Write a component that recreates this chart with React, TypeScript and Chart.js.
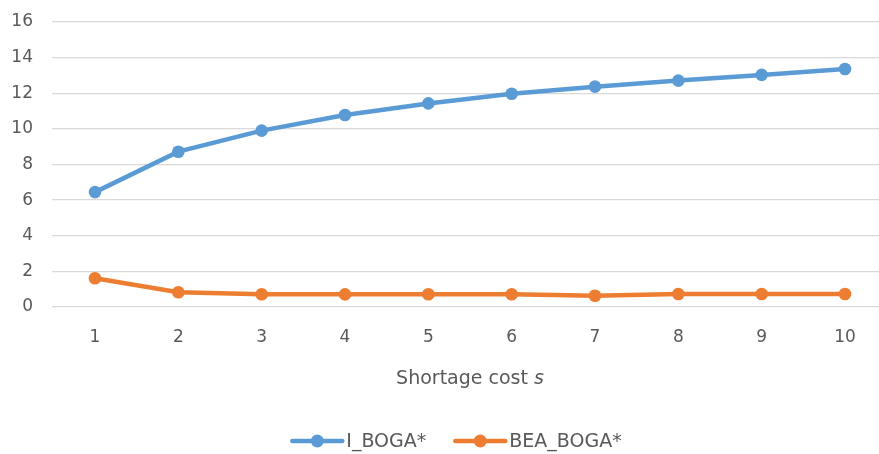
import React, { useEffect, useRef } from "react";
import { Chart, registerables } from "chart.js";

Chart.register(...registerables);

const categories = [1, 2, 3, 4, 5, 6, 7, 8, 9, 10];
const iBoga = [6.45, 8.72, 9.9, 10.78, 11.43, 11.97, 12.37, 12.71, 13.03, 13.36];
const beaBoga = [1.61, 0.83, 0.72, 0.71, 0.72, 0.72, 0.63, 0.73, 0.73, 0.73];
const yTicks = [0, 2, 4, 6, 8, 10, 12, 14, 16];
const seriesNames = ["I_BOGA*", "BEA_BOGA*"];
const xTitle = "Shortage cost ";
const xTitleVar = "s";

const BLUE = "#5B9BD5";
const ORANGE = "#ED7D31";
const COLORS = [BLUE, ORANGE];
const TEXT = "#595959";
const FONT = "'DejaVu Sans', sans-serif";

const axisTitlePlugin = {
  id: "axisTitle",
  afterDraw(chart: any) {
    const x = chart.scales.x;
    const ctx = chart.ctx;
    const cx = x.getPixelForValue((categories[0] + categories[categories.length - 1]) / 2);
    const y = x.top + 72;
    ctx.save();
    ctx.fillStyle = TEXT;
    ctx.textBaseline = "middle";
    ctx.font = `19px ${FONT}`;
    const w1 = ctx.measureText(xTitle).width;
    ctx.font = `italic 19px ${FONT}`;
    const w2 = ctx.measureText(xTitleVar).width;
    const start = cx - (w1 + w2) / 2;
    ctx.textAlign = "left";
    ctx.font = `19px ${FONT}`;
    ctx.fillText(xTitle, start, y);
    ctx.font = `italic 19px ${FONT}`;
    ctx.fillText(xTitleVar, start + w1, y);
    ctx.restore();
  },
};

const legendPlugin = {
  id: "customLegend",
  afterDraw(chart: any) {
    const ctx = chart.ctx;
    const markerW = 54;
    const gapText = 2;
    const gapItem = 27;
    const centerX = 456;
    const y = 441;
    ctx.save();
    ctx.font = `19px ${FONT}`;
    const widths = seriesNames.map((n) => ctx.measureText(n).width);
    const total =
      widths.reduce((a, b) => a + b, 0) + seriesNames.length * (markerW + gapText) + gapItem * (seriesNames.length - 1);
    let x = centerX - total / 2;
    seriesNames.forEach((name, i) => {
      const c = COLORS[i];
      ctx.strokeStyle = c;
      ctx.lineWidth = 4.5;
      ctx.lineCap = "round";
      ctx.beginPath();
      ctx.moveTo(x + 2, y);
      ctx.lineTo(x + markerW - 2, y);
      ctx.stroke();
      ctx.fillStyle = c;
      ctx.beginPath();
      ctx.arc(x + markerW / 2, y, 6.5, 0, Math.PI * 2);
      ctx.fill();
      ctx.fillStyle = TEXT;
      ctx.textAlign = "left";
      ctx.textBaseline = "middle";
      ctx.fillText(name, x + markerW + gapText, y + 1);
      x += markerW + gapText + widths[i] + gapItem;
    });
    ctx.restore();
  },
};

export default function App() {
  const ref = useRef<HTMLCanvasElement>(null);
  useEffect(() => {
    document.body.style.margin = "0";
    const chart = new Chart(ref.current!, {
      type: "line",
      data: {
        datasets: [iBoga, beaBoga].map((vals, i) => ({
          label: seriesNames[i],
          data: vals.map((v, j) => ({ x: categories[j], y: v })),
          borderColor: COLORS[i],
          backgroundColor: COLORS[i],
          borderWidth: 4.5,
          pointRadius: 6.3,
          pointHoverRadius: 6.3,
          pointBorderWidth: 0,
          pointBackgroundColor: COLORS[i],
          tension: 0,
        })),
      },
      options: {
        animation: false,
        responsive: false,
        layout: { autoPadding: false, padding: { top: 22, left: 0, right: 0, bottom: 40 } },
        scales: {
          x: {
            type: "linear",
            min: 0.484,
            max: 10.408,
            afterBuildTicks: (s: any) => {
              s.ticks = categories.map((v) => ({ value: v }));
            },
            afterFit: (s: any) => {
              s.height = 107;
              s.paddingLeft = 0;
              s.paddingRight = 0;
            },
            grid: { display: true, drawOnChartArea: false, drawTicks: true, tickLength: 18, tickColor: "rgba(0,0,0,0)" },
            border: { display: false },
            ticks: {
              color: TEXT,
              font: { family: FONT, size: 17 },
              padding: 2,
              maxRotation: 0,
              autoSkip: false,
              callback: (v: any) => String(v),
            },
          },
          y: {
            min: 0,
            max: 16,
            afterBuildTicks: (s: any) => {
              s.ticks = yTicks.map((v) => ({ value: v }));
            },
            afterFit: (s: any) => {
              s.width = 52;
            },
            grid: { color: "#D9D9D9", lineWidth: 1.3, drawTicks: true, tickLength: 17, tickColor: "rgba(0,0,0,0)" },
            border: { display: false },
            ticks: {
              color: TEXT,
              font: { family: FONT, size: 17 },
              padding: 2,
            },
          },
        },
        plugins: {
          legend: { display: false },
          tooltip: { enabled: false },
        },
      },
      plugins: [axisTitlePlugin, legendPlugin],
    });
    return () => chart.destroy();
  }, []);
  return (
    <div style={{ width: 879, height: 454, background: "#fff" }}>
      <canvas ref={ref} width={879} height={454} style={{ display: "block" }} />
    </div>
  );
}
